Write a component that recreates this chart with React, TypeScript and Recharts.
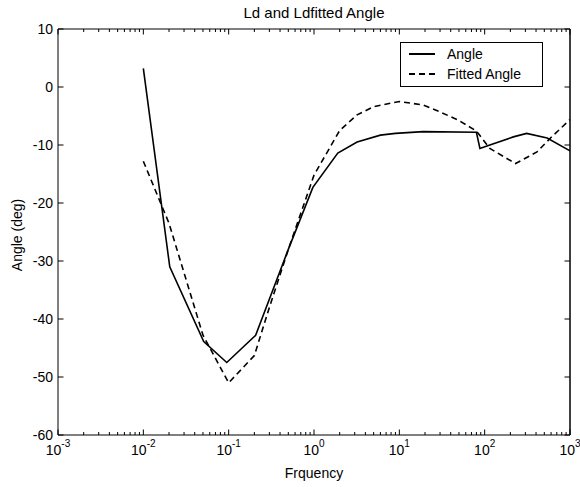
import React from 'react';
import { LineChart, Line, XAxis, YAxis, Legend, Label, ReferenceLine } from 'recharts';

const FONT = '"Liberation Sans", Arial, Helvetica, sans-serif';

// Measured "Angle" series
const angleFreq = [0.01, 0.0204, 0.051, 0.095, 0.207, 0.5, 0.97, 1.9, 3.2, 6, 9, 19, 80, 88, 115, 217, 310, 540, 1000];
const angleDeg = [3.2, -31.0, -43.9, -47.5, -42.8, -28.0, -17.3, -11.4, -9.5, -8.3, -8.0, -7.7, -7.8, -10.6, -10.0, -8.6, -8.0, -8.8, -11.0];

// "Fitted Angle" series
const fittedFreq = [0.01, 0.02, 0.05, 0.1, 0.2, 0.3, 0.5, 1, 2, 3.2, 5, 10, 19, 30, 49, 80, 115, 230, 410, 590, 1000];
const fittedDeg = [-12.8, -23.5, -42.8, -51.0, -46.3, -38.0, -28.0, -15.2, -7.5, -4.8, -3.4, -2.5, -3.1, -4.3, -5.7, -7.6, -10.6, -13.2, -11.2, -8.8, -5.6];

// Axis ticks
const majorTicks = [0.001, 0.01, 0.1, 1, 10, 100, 1000];
const exponentLabels = ['-3', '-2', '-1', '0', '1', '2', '3'];
const minorMultipliers = [2, 3, 4, 5, 6, 7, 8, 9];
const yTicks = [-60, -50, -40, -30, -20, -10, 0, 10];
const xDomain = [0.001, 1000];
const yDomain = [-60, 10];

const seriesNames = ['Angle', 'Fitted Angle'];
const chartTitle = 'Ld and Ldfitted Angle';
const xTitle = 'Frquency';
const yTitle = 'Angle (deg)';

const angleData = angleFreq.map((f, i) => ({ f, a: angleDeg[i] }));
const fittedData = fittedFreq.map((f, i) => ({ f, a: fittedDeg[i] }));
const xTicks: number[] = [];
majorTicks.forEach((m, i) => {
  xTicks.push(m);
  if (i < majorTicks.length - 1) minorMultipliers.forEach((k) => xTicks.push(k * m));
});

const MAJOR_LEN = 5.5;
const MINOR_LEN = 3;

const BottomTick = (props: any) => {
  const { x, y, payload } = props;
  const idx = majorTicks.indexOf(payload.value);
  const major = idx >= 0;
  return (
    <g>
      <line x1={x} x2={x} y1={y} y2={y - (major ? MAJOR_LEN : MINOR_LEN)} stroke="#000" strokeWidth={1} />
      {major && (
        <text x={x} y={y + 20} textAnchor="middle" fontSize={14} fill="#000" fontFamily={FONT}>
          <tspan>10</tspan>
          <tspan dy={-8} fontSize={10}>{exponentLabels[idx]}</tspan>
        </text>
      )}
    </g>
  );
};

const TopTick = (props: any) => {
  const { x, y, payload } = props;
  const major = majorTicks.indexOf(payload.value) >= 0;
  return <line x1={x} x2={x} y1={y} y2={y + (major ? MAJOR_LEN : MINOR_LEN)} stroke="#000" strokeWidth={1} />;
};

const LeftTick = (props: any) => {
  const { x, y, payload } = props;
  return (
    <g>
      <line x1={x} x2={x + MAJOR_LEN} y1={y} y2={y} stroke="#000" strokeWidth={1} />
      <text x={x - 5} y={y} dy="0.36em" textAnchor="end" fontSize={14} fill="#000" fontFamily={FONT}>
        {payload.value}
      </text>
    </g>
  );
};

const RightTick = (props: any) => {
  const { x, y } = props;
  return <line x1={x} x2={x - MAJOR_LEN} y1={y} y2={y} stroke="#000" strokeWidth={1} />;
};

const TitleLabel = (props: any) => {
  const vb = props.viewBox || { x: 58, y: 28, width: 512, height: 1 };
  return (
    <text x={vb.x + vb.width / 2} y={vb.y + vb.height - 11} textAnchor="middle" fontSize={15} fill="#000" fontFamily={FONT}>
      {chartTitle}
    </text>
  );
};

const XTitleLabel = (props: any) => {
  const vb = props.viewBox || { x: 58, y: 435, width: 512, height: 30 };
  return (
    <text x={vb.x + vb.width / 2} y={vb.y + 43} textAnchor="middle" fontSize={14} fill="#000" fontFamily={FONT}>
      {xTitle}
    </text>
  );
};

const YTitleLabel = (props: any) => {
  const vb = props.viewBox || { x: 8, y: 29, width: 50, height: 406 };
  const cx = vb.x + 9;
  const cy = vb.y + vb.height / 2 + 3;
  return (
    <text
      x={cx}
      y={cy}
      transform={`rotate(-90 ${cx} ${cy})`}
      textAnchor="middle"
      dy="0.36em"
      fontSize={14}
      fill="#000"
      fontFamily={FONT}
    >
      {yTitle}
    </text>
  );
};

const LegendBox = (props: any) => {
  const payload: any[] = props.payload || [];
  const items = seriesNames.map((name, i) => {
    const p = payload.find((e) => e.value === name);
    const dash = p && p.payload && p.payload.strokeDasharray ? p.payload.strokeDasharray : i === 1 ? '6 4' : undefined;
    return { name, dash };
  });
  return (
    <div
      style={{
        width: 143,
        height: 45,
        boxSizing: 'border-box',
        border: '1px solid #000',
        background: '#fff',
      }}
    >
      <svg width={141} height={43} style={{ display: 'block' }}>
        {items.map((it, i) => (
          <g key={it.name}>
            <line x1={8} x2={34} y1={11 + i * 20} y2={11 + i * 20} stroke="#000" strokeWidth={2} strokeDasharray={it.dash} />
            <text x={46} y={11 + i * 20} dy="0.36em" fontSize={14} fill="#000" fontFamily={FONT}>
              {it.name}
            </text>
          </g>
        ))}
      </svg>
    </div>
  );
};

export default function App() {
  return (
    <div style={{ position: 'absolute', left: 0, top: 0, width: 580, height: 487, background: '#fff' }}>
      <LineChart width={580} height={487} margin={{ top: 28, right: 9, bottom: 22, left: 8 }}>
        <XAxis
          dataKey="f"
          type="number"
          scale="log"
          domain={xDomain}
          allowDataOverflow
          ticks={xTicks}
          interval={0}
          tick={<BottomTick />}
          tickSize={0}
          tickMargin={0}
          tickLine={false}
          height={30}
          axisLine={{ stroke: '#000', strokeWidth: 1 }}
        >
          <Label content={<XTitleLabel />} />
        </XAxis>
        <XAxis
          xAxisId="top"
          orientation="top"
          dataKey="f"
          type="number"
          scale="log"
          domain={xDomain}
          allowDataOverflow
          ticks={xTicks}
          interval={0}
          tick={<TopTick />}
          tickSize={0}
          tickMargin={0}
          tickLine={false}
          height={1}
          axisLine={{ stroke: '#000', strokeWidth: 1 }}
        >
          <Label content={<TitleLabel />} />
        </XAxis>
        <YAxis
          type="number"
          domain={yDomain}
          ticks={yTicks}
          interval={0}
          allowDataOverflow
          tick={<LeftTick />}
          tickSize={0}
          tickMargin={0}
          tickLine={false}
          width={50}
          axisLine={{ stroke: '#000', strokeWidth: 1 }}
        >
          <Label content={<YTitleLabel />} />
        </YAxis>
        <YAxis
          yAxisId="right"
          orientation="right"
          type="number"
          domain={yDomain}
          ticks={yTicks}
          interval={0}
          allowDataOverflow
          tick={<RightTick />}
          tickSize={0}
          tickMargin={0}
          tickLine={false}
          width={1}
          axisLine={{ stroke: '#000', strokeWidth: 1 }}
        />
        <ReferenceLine x={xDomain[1]} stroke="#000" strokeWidth={1} ifOverflow="visible" />
        <Legend
          layout="vertical"
          align="center"
          verticalAlign="middle"
          content={<LegendBox />}
          wrapperStyle={{ top: 42, left: 400, right: 'auto', bottom: 'auto', width: 143, height: 45 }}
        />
        <Line
          data={angleData}
          dataKey="a"
          name={seriesNames[0]}
          stroke="#000"
          strokeWidth={1.6}
          dot={false}
          activeDot={false}
          isAnimationActive={false}
        />
        <Line
          data={fittedData}
          dataKey="a"
          name={seriesNames[1]}
          stroke="#000"
          strokeWidth={1.6}
          strokeDasharray="6 4"
          dot={false}
          activeDot={false}
          isAnimationActive={false}
        />
      </LineChart>
    </div>
  );
}
